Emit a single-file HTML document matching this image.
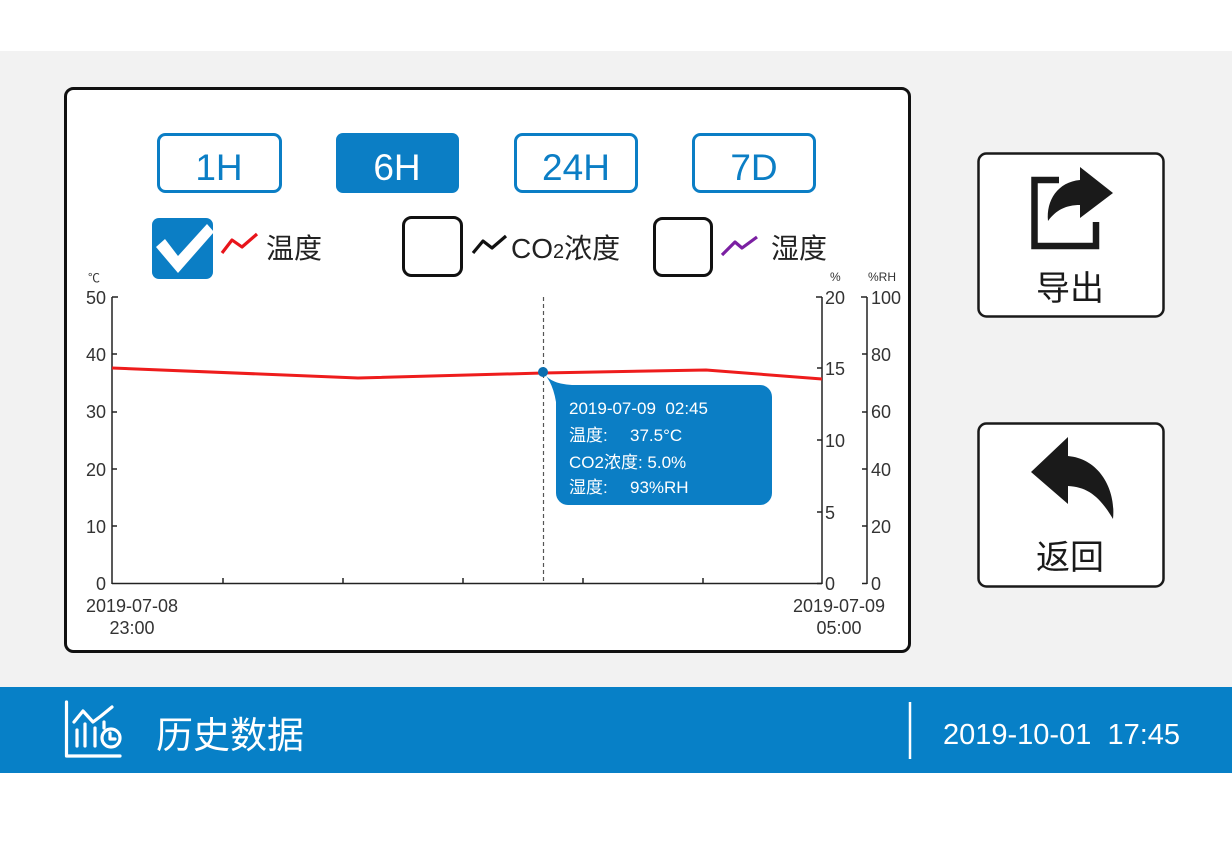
<!DOCTYPE html>
<html><head><meta charset="utf-8"><style>
html,body{margin:0;padding:0;background:#fff;}
svg{display:block;}
text{font-family:"Liberation Sans","Noto Sans CJK SC",sans-serif;white-space:pre;}
.cjk{font-family:"Noto Sans CJK SC","WenQuanYi Zen Hei",sans-serif;}
</style></head><body>
<svg width="1232" height="848" viewBox="0 0 1232 848" xmlns="http://www.w3.org/2000/svg" xml:space="preserve">
<rect x="0" y="0" width="1232" height="848" fill="#ffffff"/>
<rect x="0" y="51" width="1232" height="636" fill="#f2f2f2"/>
<rect x="65.5" y="88.5" width="844" height="563" rx="8" fill="#fff" stroke="#111" stroke-width="3"/>
<rect x="158.5" y="134.5" width="122" height="57" rx="7" fill="#fff" stroke="#0b7ec5" stroke-width="3"/>
<text x="219" y="180" font-size="37" fill="#0b7ec5" text-anchor="middle">1H</text>
<rect x="336" y="133" width="123" height="60" rx="7" fill="#0b7ec5"/>
<text x="397" y="180" font-size="37" fill="#fff" text-anchor="middle">6H</text>
<rect x="515.5" y="134.5" width="121" height="57" rx="7" fill="#fff" stroke="#0b7ec5" stroke-width="3"/>
<text x="576" y="180" font-size="37" fill="#0b7ec5" text-anchor="middle">24H</text>
<rect x="693.5" y="134.5" width="121" height="57" rx="7" fill="#fff" stroke="#0b7ec5" stroke-width="3"/>
<text x="754" y="180" font-size="37" fill="#0b7ec5" text-anchor="middle">7D</text>
<rect x="152" y="218" width="61" height="61" rx="7" fill="#0b7ec5"/>
<polygon points="156,247 165,239 178,256 207,224 214,232 178,273" fill="#fff"/>
<polyline points="222,253 232,240 242,247 257,234" fill="none" stroke="#e8141b" stroke-width="3.2" stroke-linejoin="round"/>
<text class="cjk" x="266" y="258" font-size="28" fill="#222">温度</text>
<rect x="403.5" y="217.5" width="58" height="58" rx="8" fill="#fff" stroke="#111" stroke-width="3"/>
<polyline points="473,253 483,241 492,248 506,236" fill="none" stroke="#111" stroke-width="3.2" stroke-linejoin="round"/>
<text x="511" y="258" font-size="28" fill="#222">CO<tspan font-size="20">2</tspan><tspan style="font-family:'Noto Sans CJK SC',sans-serif">浓度</tspan></text>
<rect x="654.5" y="218.5" width="57" height="57" rx="8" fill="#fff" stroke="#111" stroke-width="3"/>
<polyline points="722,255 735,242 742,248 757,237" fill="none" stroke="#7b1fa2" stroke-width="3.2" stroke-linejoin="round"/>
<text class="cjk" x="771" y="258" font-size="28" fill="#222">湿度</text>
<text x="88" y="282" font-size="12" fill="#333">℃</text>
<text x="830" y="281" font-size="12" fill="#333">%</text>
<text x="868" y="281" font-size="12" fill="#333">%RH</text>
<g stroke="#222" stroke-width="1.5" fill="none">
<line x1="112" y1="297" x2="112" y2="584"/>
<line x1="112" y1="583.5" x2="822" y2="583.5"/>
<line x1="112" y1="297" x2="118" y2="297"/>
<line x1="112" y1="354" x2="117" y2="354"/>
<line x1="112" y1="412" x2="117" y2="412"/>
<line x1="112" y1="469" x2="117" y2="469"/>
<line x1="112" y1="526" x2="117" y2="526"/>
<line x1="223" y1="578" x2="223" y2="584"/>
<line x1="343" y1="578" x2="343" y2="584"/>
<line x1="463" y1="578" x2="463" y2="584"/>
<line x1="583" y1="578" x2="583" y2="584"/>
<line x1="703" y1="578" x2="703" y2="584"/>
<line x1="822" y1="297" x2="822" y2="584"/>
<line x1="816" y1="297" x2="822" y2="297"/>
<line x1="817" y1="368" x2="822" y2="368"/>
<line x1="817" y1="440" x2="822" y2="440"/>
<line x1="817" y1="512" x2="822" y2="512"/>
<line x1="817" y1="583.5" x2="822" y2="583.5"/>
<line x1="867" y1="297" x2="867" y2="584"/>
<line x1="861" y1="297" x2="867" y2="297"/>
<line x1="862" y1="354" x2="867" y2="354"/>
<line x1="862" y1="412" x2="867" y2="412"/>
<line x1="862" y1="469" x2="867" y2="469"/>
<line x1="862" y1="526" x2="867" y2="526"/>
<line x1="862" y1="583.5" x2="867" y2="583.5"/>
</g>
<g font-size="18" fill="#333" text-anchor="end">
<text x="106" y="304">50</text>
<text x="106" y="361">40</text>
<text x="106" y="418">30</text>
<text x="106" y="476">20</text>
<text x="106" y="533">10</text>
<text x="106" y="590">0</text>
</g>
<g font-size="18" fill="#333">
<text x="825" y="304">20</text>
<text x="825" y="375">15</text>
<text x="825" y="447">10</text>
<text x="825" y="519">5</text>
<text x="825" y="590">0</text>
<text x="871" y="304">100</text>
<text x="871" y="361">80</text>
<text x="871" y="418">60</text>
<text x="871" y="476">40</text>
<text x="871" y="533">20</text>
<text x="871" y="590">0</text>
</g>
<g font-size="18" fill="#333" text-anchor="middle">
<text x="132" y="612">2019-07-08</text>
<text x="132" y="634">23:00</text>
<text x="839" y="612">2019-07-09</text>
<text x="839" y="634">05:00</text>
</g>
<line x1="543.5" y1="297" x2="543.5" y2="583" stroke="#555" stroke-width="1.2" stroke-dasharray="4,3"/>
<polyline points="112,368 358,378 543,373 706,370 822,379" fill="none" stroke="#ee1c1c" stroke-width="3" stroke-linejoin="round"/>
<path d="M543,372 Q550,384 572,385 L556,402 Q553,383 543,372 Z" fill="#0b7ec5"/>
<rect x="556" y="385" width="216" height="120" rx="12" fill="#0b7ec5"/>
<circle cx="543" cy="372" r="5" fill="#0b6fb0"/>
<g font-size="17" fill="#fff">
<text x="569" y="414">2019-07-09  02:45</text>
<text x="569" y="441"><tspan style="font-family:'Noto Sans CJK SC',sans-serif">温度</tspan>:</text>
<text x="630" y="441">37.5°C</text>
<text x="569" y="468">CO2<tspan style="font-family:'Noto Sans CJK SC',sans-serif">浓度</tspan>: 5.0%</text>
<text x="569" y="493"><tspan style="font-family:'Noto Sans CJK SC',sans-serif">湿度</tspan>:</text>
<text x="630" y="493">93%RH</text>
</g>
<rect x="978.5" y="153.5" width="185" height="163" rx="8" fill="#fff" stroke="#1a1a1a" stroke-width="2.5"/>
<path d="M1059,180 L1034.5,180 L1034.5,246 L1096,246 L1096,222" fill="none" stroke="#1a1a1a" stroke-width="6.5"/>
<path d="M1113,193 L1080,167 L1080,180 C1058,182 1046,200 1048,221 C1056,210 1066,205 1080,205 L1080,218 Z" fill="#1a1a1a"/>
<text class="cjk" x="1070" y="300" font-size="34" fill="#1a1a1a" text-anchor="middle">导出</text>
<rect x="978.5" y="423.5" width="185" height="163" rx="8" fill="#fff" stroke="#1a1a1a" stroke-width="2.5"/>
<path d="M1031,472 L1068,437 L1068,456 C1100,459 1116,490 1113,519 C1100,497 1088,487 1068,486 L1068,504 Z" fill="#1a1a1a"/>
<text class="cjk" x="1070" y="569" font-size="34" fill="#1a1a1a" text-anchor="middle">返回</text>
<rect x="0" y="687" width="1232" height="86" fill="#0780c7"/>
<g stroke="#fff" stroke-width="3.2" fill="none" stroke-linecap="round" stroke-linejoin="round">
<path d="M66.5,702 L66.5,756 L120,756"/>
<polyline points="74,722 83,711 93,722 101,716 112,707"/>
<line x1="77" y1="730" x2="77" y2="746"/>
<line x1="85" y1="724" x2="85" y2="746"/>
<line x1="95" y1="728" x2="95" y2="746"/>
<line x1="104" y1="722" x2="104" y2="728"/>
<circle cx="111" cy="738" r="9"/>
<path d="M110,733 L110,739 L115,739"/>
</g>
<text class="cjk" x="156" y="748" font-size="37" fill="#fff">历史数据</text>
<line x1="910" y1="702" x2="910" y2="759" stroke="#fff" stroke-width="2.5"/>
<text x="943" y="744" font-size="29" fill="#fff">2019-10-01  17:45</text>
</svg>
</body></html>
